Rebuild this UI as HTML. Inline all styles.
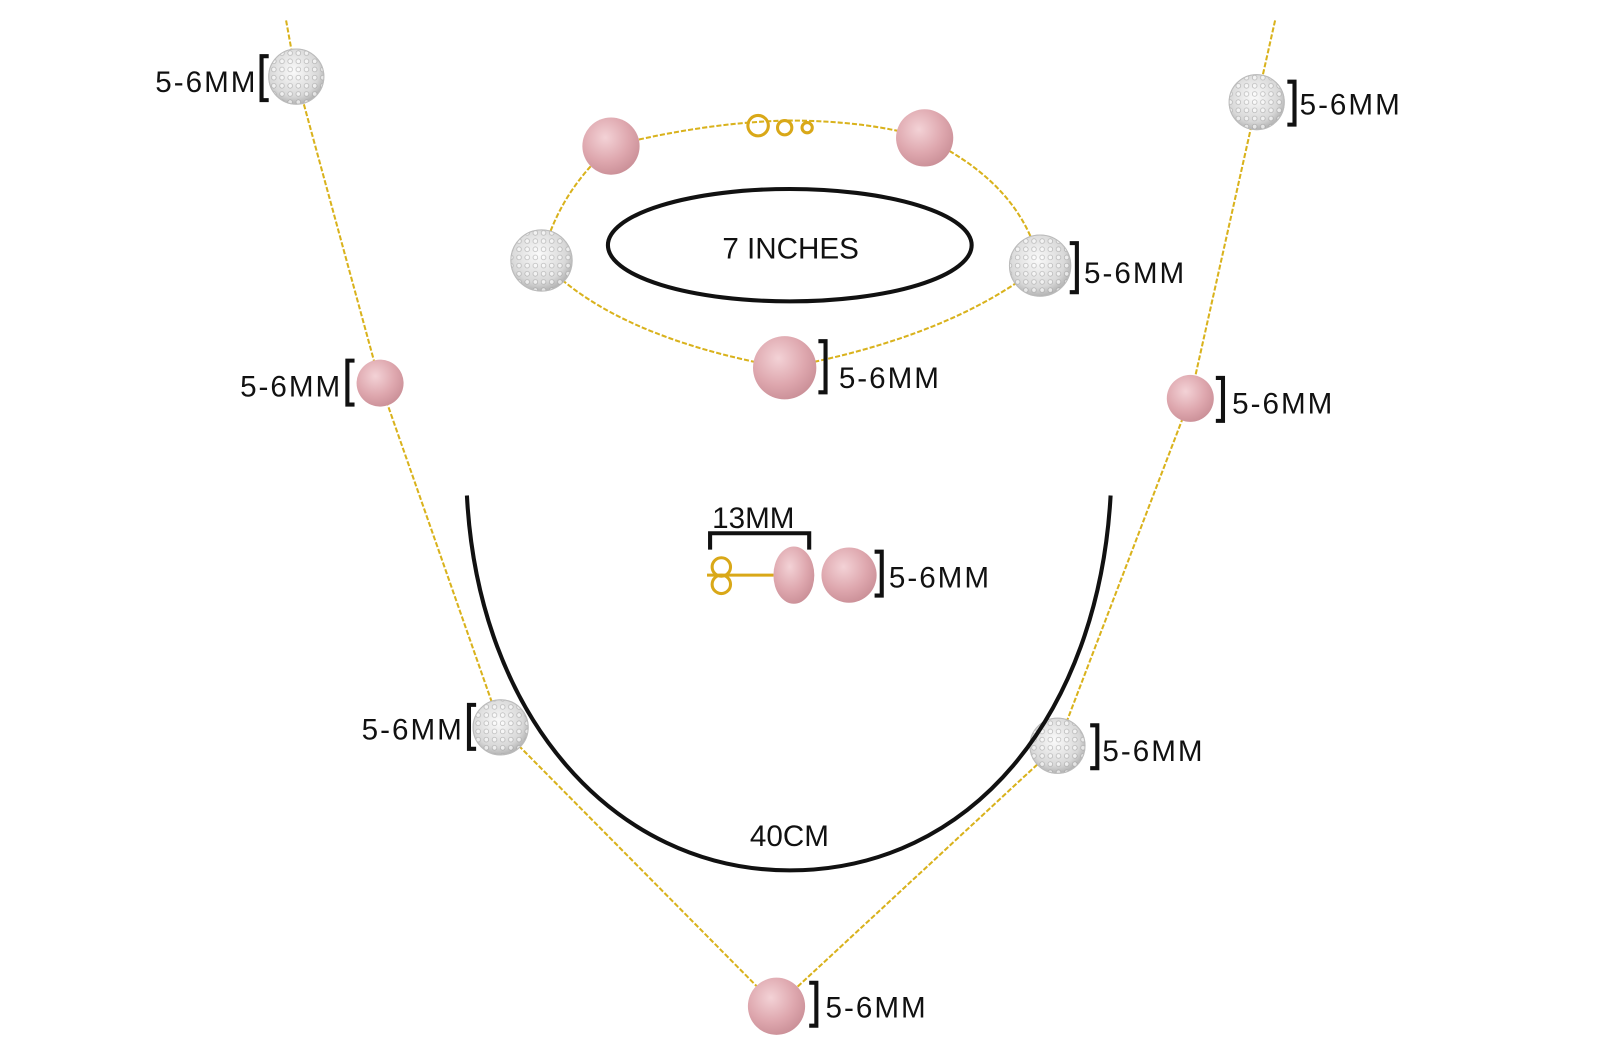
<!DOCTYPE html>
<html><head><meta charset="utf-8"><style>
html,body{margin:0;padding:0;background:#fff;}
svg{display:block}
text{font-family:"Liberation Sans",sans-serif;font-size:29px;fill:#111}
</style></head><body>
<svg width="1600" height="1042" viewBox="0 0 1566 1020" preserveAspectRatio="none" xmlns="http://www.w3.org/2000/svg">
<defs>
<radialGradient id="pk" cx="40%" cy="35%" r="70%"><stop offset="0" stop-color="#f3d2d6"/><stop offset="0.6" stop-color="#dea7ae"/><stop offset="1" stop-color="#c98e96"/></radialGradient>
<radialGradient id="cr" cx="45%" cy="40%" r="65%"><stop offset="0" stop-color="#fafafa"/><stop offset="0.7" stop-color="#d8d8d8"/><stop offset="1" stop-color="#a8a8a8"/></radialGradient>
<pattern id="dots" width="8" height="8" patternUnits="userSpaceOnUse"><circle cx="4" cy="4" r="2.3" fill="#fff" stroke="#999" stroke-width="0.7"/></pattern>
</defs>
<g fill="none" stroke="#d9b21c" stroke-width="2" stroke-dasharray="5,2">
<path d="M280,20 L290,75 L372,375 L490,712 L760,985"/>
<path d="M1248,20 L1230,100 L1165,390 L1035,730 L760,985"/>
<path d="M598,143 Q690,120 770,118 Q850,118 905,135"/>
<path d="M598,143 Q545,190 530,255 Q600,330 768,360 Q930,330 1018,260 Q1000,180 905,135"/>
</g>
<g fill="url(#pk)">
<circle cx="598" cy="143" r="28"/><circle cx="905" cy="135" r="28"/>
<circle cx="768" cy="360" r="31"/><circle cx="372" cy="375" r="23"/>
<circle cx="1165" cy="390" r="23"/><circle cx="760" cy="985" r="28"/>
<ellipse cx="777" cy="563" rx="20" ry="28"/><circle cx="831" cy="563" r="27"/>
</g>
<g stroke="#bbb" stroke-width="1">
<circle cx="290" cy="75" r="27" fill="url(#cr)"/><circle cx="290" cy="75" r="27" fill="url(#dots)" opacity="0.6"/>
<circle cx="1230" cy="100" r="27" fill="url(#cr)"/><circle cx="1230" cy="100" r="27" fill="url(#dots)" opacity="0.6"/>
<circle cx="530" cy="255" r="30" fill="url(#cr)"/><circle cx="530" cy="255" r="30" fill="url(#dots)" opacity="0.6"/>
<circle cx="1018" cy="260" r="30" fill="url(#cr)"/><circle cx="1018" cy="260" r="30" fill="url(#dots)" opacity="0.6"/>
<circle cx="490" cy="712" r="27" fill="url(#cr)"/><circle cx="490" cy="712" r="27" fill="url(#dots)" opacity="0.6"/>
<circle cx="1035" cy="730" r="27" fill="url(#cr)"/><circle cx="1035" cy="730" r="27" fill="url(#dots)" opacity="0.6"/>
</g>
<g stroke="#d9a818" fill="none" stroke-width="3">
<circle cx="742" cy="123" r="10"/><circle cx="768" cy="125" r="7"/><circle cx="790" cy="125" r="5"/>
<circle cx="706" cy="555" r="9"/><circle cx="706" cy="572" r="9"/><line x1="692" y1="563" x2="757" y2="563"/>
</g>
<ellipse cx="773" cy="240" rx="178" ry="55" fill="none" stroke="#111" stroke-width="4"/>
<path d="M457,485 C468,700 600,852 773,852 C950,852 1075,700 1087,485" fill="none" stroke="#111" stroke-width="4"/>
<g fill="none" stroke="#111" stroke-width="4">
<path d="M263,55 H256 V98 H263"/><path d="M347,353 H340 V396 H347"/><path d="M466,690 H459 V733 H466"/>
<path d="M1260,80 H1267 V122 H1260"/><path d="M1047,238 H1054 V286 H1047"/><path d="M801,334 H808 V384 H801"/>
<path d="M1190,370 H1197 V412 H1190"/><path d="M1067,710 H1074 V752 H1067"/><path d="M792,962 H799 V1004 H792"/>
<path d="M856,540 H863 V583 H856"/><path d="M695,538 V522 H792 V538"/>
</g>
<text x="152" y="90" textLength="98">5-6MM</text>
<text x="235" y="388" textLength="98">5-6MM</text>
<text x="354" y="724" textLength="98">5-6MM</text>
<text x="1272" y="112" textLength="98">5-6MM</text>
<text x="1061" y="277" textLength="98">5-6MM</text>
<text x="821" y="380" textLength="98">5-6MM</text>
<text x="1206" y="405" textLength="98">5-6MM</text>
<text x="1079" y="745" textLength="98">5-6MM</text>
<text x="808" y="996" textLength="98">5-6MM</text>
<text x="870" y="575" textLength="98">5-6MM</text>
<text x="697" y="517">13MM</text>
<text x="707" y="253">7 INCHES</text>
<text x="734" y="828">40CM</text>
</svg>
</body></html>
